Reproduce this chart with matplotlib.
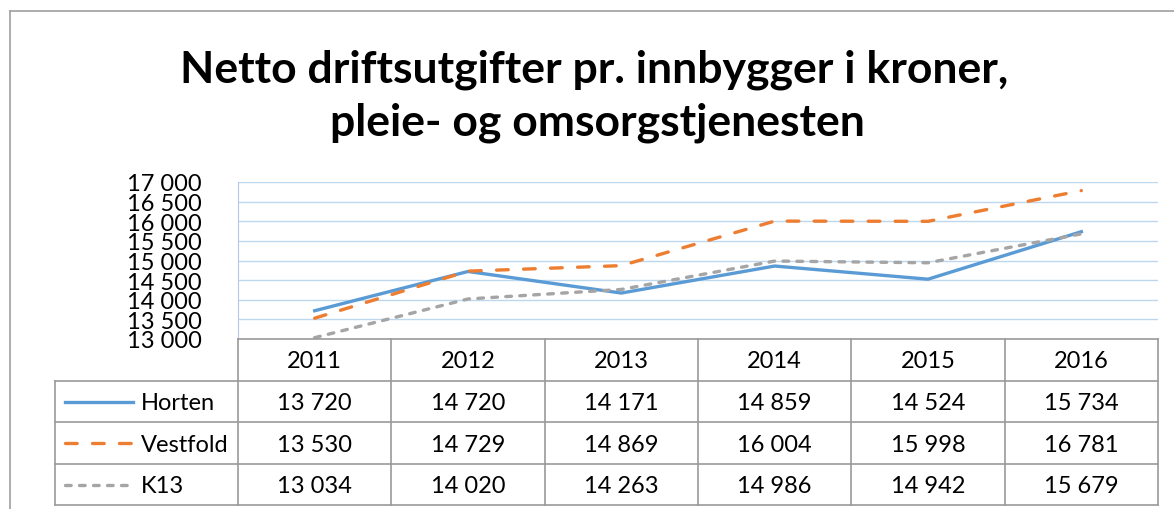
import matplotlib.pyplot as plt
import numpy as np

plt.rcParams['font.family'] = ['Lato', 'DejaVu Sans']

years = ['2011', '2012', '2013', '2014', '2015', '2016']
horten = [13720, 14720, 14171, 14859, 14524, 15734]
vestfold = [13530, 14729, 14869, 16004, 15998, 16781]
k13 = [13034, 14020, 14263, 14986, 14942, 15679]
series_names = ['Horten', 'Vestfold', 'K13']
y_ticks = [13000, 13500, 14000, 14500, 15000, 15500, 16000, 16500, 17000]
title = "Netto driftsutgifter pr. innbygger i kroner,\npleie- og omsorgstjenesten"

def fmt(v):
    return f"{v:,}".replace(",", " ")

W, H = 1174, 510
fig = plt.figure(figsize=(W / 100, H / 100), dpi=100)

# pixel layout
left, right, top, bottom = 238, 1158, 183, 340
rows_y = [340, 381.7, 423.3, 465, 506]
tab_left = 55

ax = fig.add_axes([left / W, 1 - bottom / H, (right - left) / W, (bottom - top) / H])
styles = [
    dict(color='#5B9BD5', linestyle='-'),
    dict(color='#ED7D31', linestyle=(0, (3.5, 4.6)), dash_capstyle='round'),
    dict(color='#A5A5A5', linestyle=(0, (1.7, 2.5)), dash_capstyle='round'),
]
all_series = [horten, vestfold, k13]
x = np.arange(len(years))
for vals, st in zip(all_series, styles):
    ax.plot(x, vals, lw=2.4, **st)
ax.set_xlim(-0.5, len(years) - 0.5)
ax.set_ylim(y_ticks[0], y_ticks[-1])
ax.set_yticks(y_ticks)
ax.set_yticklabels([fmt(v) for v in y_ticks], fontsize=17)
ax.tick_params(axis='y', length=0, pad=26)
ax.set_xticks([])
ax.grid(axis='y', color='#BDD7EE', lw=1)
for s in ['top', 'right', 'bottom']:
    ax.spines[s].set_visible(False)
ax.spines['left'].set_color('#B4C7E7')
ax.set_axisbelow(True)

# overlay in pixel coords for frame and data table
ov = fig.add_axes([0, 0, 1, 1], facecolor='none')
ov.set_xlim(0, W)
ov.set_ylim(H, 0)
ov.axis('off')

gc = '#A0A0A0'
ov.plot([10, W], [12, 12], color=gc, lw=1.2)
ov.plot([10, 10], [12, H], color=gc, lw=1.2)

t1, t2 = title.split('\n')
ov.text(594, 83, t1, ha='center', va='baseline', fontsize=32, fontweight='bold')
ov.text(597, 136, t2, ha='center', va='baseline', fontsize=32, fontweight='bold')

col_w = (right - left) / len(years)
cols = [left + i * col_w for i in range(len(years) + 1)]
tc = '#9A9A9A'
# horizontal lines
ov.plot([left, right], [rows_y[0], rows_y[0]], color=tc, lw=1.2)
for yy in rows_y[1:]:
    ov.plot([tab_left, right], [yy, yy], color=tc, lw=1.2)
# vertical lines
for cx in cols:
    ov.plot([cx, cx], [rows_y[0], rows_y[-1]], color=tc, lw=1.2)
ov.plot([tab_left, tab_left], [rows_y[1], rows_y[-1]], color=tc, lw=1.2)

fs = 17
for i, yr in enumerate(years):
    ov.text((cols[i] + cols[i + 1]) / 2, (rows_y[0] + rows_y[1]) / 2 + 1, yr,
            ha='center', va='center', fontsize=fs)
for r, (name, vals, st) in enumerate(zip(series_names, all_series, styles)):
    cy = (rows_y[r + 1] + rows_y[r + 2]) / 2
    ov.plot([65, 133], [cy, cy], lw=2.4, **st)
    ov.text(141, cy + 1, name, ha='left', va='center', fontsize=fs)
    for i, v in enumerate(vals):
        ov.text((cols[i] + cols[i + 1]) / 2, cy + 1, fmt(v),
                ha='center', va='center', fontsize=fs)

fig.savefig('out.png', dpi=100)
